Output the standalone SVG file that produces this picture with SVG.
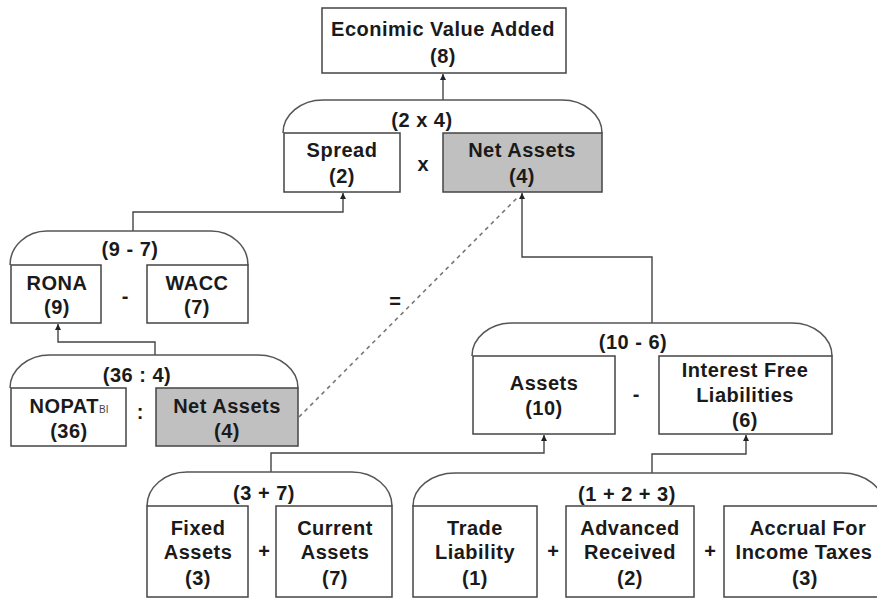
<svg xmlns="http://www.w3.org/2000/svg" width="877" height="598" viewBox="0 0 877 598">
<style>
.box{fill:#fff;stroke:#444;stroke-width:1.5}
.gray{fill:#c0c0c0;stroke:#444;stroke-width:1.5}
.arch{fill:none;stroke:#555;stroke-width:1.5}
.t{font-family:"Liberation Sans",Arial,sans-serif;font-weight:bold;font-size:20px;letter-spacing:0.5px;fill:#1a1a1a;text-anchor:middle}
.op{font-family:"Liberation Sans",Arial,sans-serif;font-weight:bold;font-size:20px;fill:#1a1a1a;text-anchor:middle}
.sub{font-size:10px;font-weight:normal;fill:#444;letter-spacing:0}
.c{fill:none;stroke:#444;stroke-width:1.4}
.d{fill:none;stroke:#777;stroke-width:1.6;stroke-dasharray:4 4}
</style>
<defs>
<marker id="ah" viewBox="0 0 10 10" refX="10" refY="5" markerWidth="6" markerHeight="6" orient="auto" markerUnits="userSpaceOnUse">
<path d="M0,0 L10,5 L0,10 z" fill="#222"/>
</marker>
</defs>
<rect width="877" height="598" fill="#fff"/>

<g id="connectors">
<path class="c" d="M443,100 V74" marker-end="url(#ah)"/>
<path class="c" d="M133,231 V212 H343 V193" marker-end="url(#ah)"/>
<path class="c" d="M155,355 V342 H58 V324" marker-end="url(#ah)"/>
<path class="c" d="M652,323 V257 H522 V193" marker-end="url(#ah)"/>
<path class="d" d="M299,417 L518,197"/>
<path class="c" d="M271,472 V453 H544 V435" marker-end="url(#ah)"/>
<path class="c" d="M652,473 V454 H746 V435" marker-end="url(#ah)"/>
</g>

<g id="eva">
<rect class="box" x="322" y="8" width="244" height="65"/>
<text class="t" x="443" y="36">Econimic Value Added</text>
<text class="t" x="443" y="63">(8)</text>
</g>

<g id="group-2x4">
<path class="arch" d="M283,133 A40,33 0 0 1 323,100 H562 A40,33 0 0 1 602,133"/>
<text class="t" x="422" y="127">(2 x 4)</text>
<text class="op" x="423" y="171">x</text>
</g>
<g id="spread">
<rect class="box" x="284" y="133" width="116" height="59"/>
<text class="t" x="342" y="157">Spread</text>
<text class="t" x="342" y="183">(2)</text>
</g>
<g id="net-assets-top">
<rect class="gray" x="443" y="133" width="159" height="59"/>
<text class="t" x="522" y="157">Net Assets</text>
<text class="t" x="522" y="183">(4)</text>
</g>

<g id="group-9-7">
<path class="arch" d="M10,265 A37,34 0 0 1 47,231 H211 A37,34 0 0 1 248,265"/>
<text class="t" x="130" y="256">(9 - 7)</text>
<text class="op" x="125" y="303">-</text>
</g>
<g id="rona">
<rect class="box" x="11" y="265" width="90" height="58"/>
<text class="t" x="57" y="290">RONA</text>
<text class="t" x="57" y="314">(9)</text>
</g>
<g id="wacc">
<rect class="box" x="147" y="265" width="101" height="58"/>
<text class="t" x="197" y="290">WACC</text>
<text class="t" x="197" y="314">(7)</text>
</g>

<g id="group-36-4">
<path class="arch" d="M10,388 A40,33 0 0 1 50,355 H258 A40,33 0 0 1 298,388"/>
<text class="t" x="137" y="382">(36 : 4)</text>
<text class="op" x="140" y="419">:</text>
</g>
<g id="nopat">
<rect class="box" x="11" y="388" width="115" height="58"/>
<text class="t" x="69" y="413">NOPAT<tspan class="sub">BI</tspan></text>
<text class="t" x="69" y="438">(36)</text>
</g>
<g id="net-assets-bottom">
<rect class="gray" x="156" y="388" width="142" height="58"/>
<text class="t" x="227" y="413">Net Assets</text>
<text class="t" x="227" y="438">(4)</text>
</g>
<text class="op" x="395" y="308">=</text>

<g id="group-10-6">
<path class="arch" d="M472,356 A40,33 0 0 1 512,323 H792 A40,33 0 0 1 832,356"/>
<text class="t" x="633" y="349">(10 - 6)</text>
<text class="op" x="636" y="401">-</text>
</g>
<g id="assets">
<rect class="box" x="473" y="356" width="142" height="78"/>
<text class="t" x="544" y="390">Assets</text>
<text class="t" x="544" y="415">(10)</text>
</g>
<g id="ifl">
<rect class="box" x="659" y="356" width="173" height="78"/>
<text class="t" x="745" y="377">Interest Free</text>
<text class="t" x="745" y="402">Liabilities</text>
<text class="t" x="745" y="427">(6)</text>
</g>

<g id="group-3-7">
<path class="arch" d="M147,506 A40,34 0 0 1 187,472 H352 A40,34 0 0 1 392,506"/>
<text class="t" x="264" y="500">(3 + 7)</text>
<text class="op" x="264" y="558">+</text>
</g>
<g id="fixed-assets">
<rect class="box" x="147" y="506" width="101" height="91"/>
<text class="t" x="198" y="535">Fixed</text>
<text class="t" x="198" y="559">Assets</text>
<text class="t" x="198" y="585">(3)</text>
</g>
<g id="current-assets">
<rect class="box" x="276" y="506" width="116" height="91"/>
<text class="t" x="335" y="535">Current</text>
<text class="t" x="335" y="559">Assets</text>
<text class="t" x="335" y="585">(7)</text>
</g>

<g id="group-1-2-3">
<path class="arch" d="M413,506 A42,33 0 0 1 455,473 H842 A42,33 0 0 1 884,506"/>
<text class="t" x="627" y="501">(1 + 2 + 3)</text>
<text class="op" x="553" y="558">+</text>
<text class="op" x="710" y="558">+</text>
</g>
<g id="trade-liability">
<rect class="box" x="413" y="506" width="124" height="91"/>
<text class="t" x="475" y="535">Trade</text>
<text class="t" x="475" y="559">Liability</text>
<text class="t" x="475" y="585">(1)</text>
</g>
<g id="advanced-received">
<rect class="box" x="566" y="506" width="128" height="91"/>
<text class="t" x="630" y="535">Advanced</text>
<text class="t" x="630" y="559">Received</text>
<text class="t" x="630" y="585">(2)</text>
</g>
<g id="accrual">
<rect class="box" x="724" y="506" width="160" height="91"/>
<text class="t" x="808" y="535">Accrual For</text>
<text class="t" x="804" y="559">Income Taxes</text>
<text class="t" x="805" y="585">(3)</text>
</g>
</svg>
